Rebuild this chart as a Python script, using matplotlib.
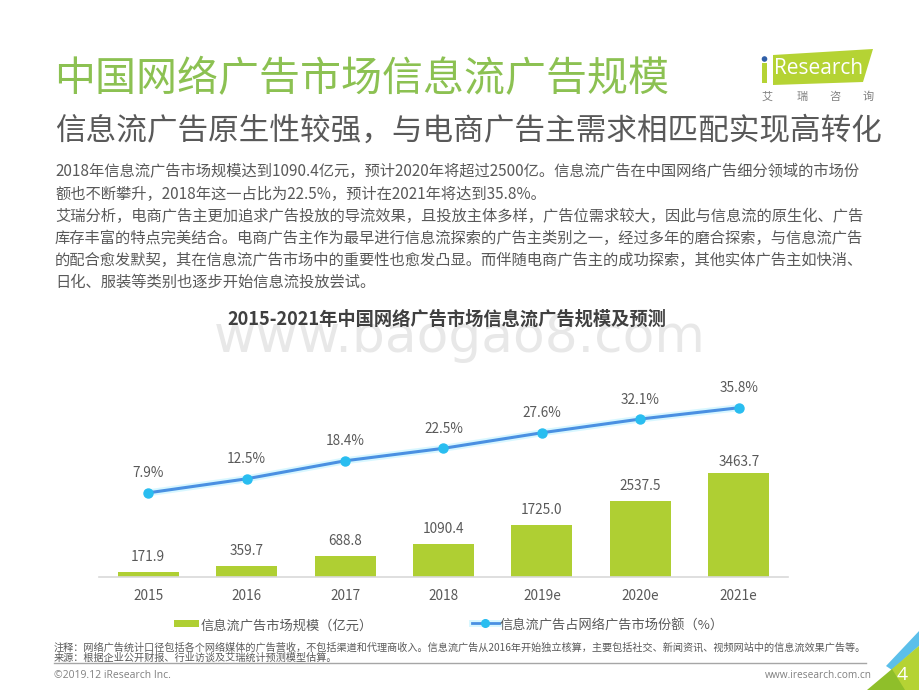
import matplotlib
matplotlib.use('Agg')
import matplotlib.pyplot as plt
from matplotlib.patches import Polygon, Rectangle
from matplotlib.lines import Line2D
import matplotlib.patheffects as pe

plt.rcParams['font.family'] = ['Noto Sans CJK SC', 'DejaVu Sans']

categories = ['2015', '2016', '2017', '2018', '2019e', '2020e', '2021e']
market_size = [171.9, 359.7, 688.8, 1090.4, 1725.0, 2537.5, 3463.7]
market_share = [7.9, 12.5, 18.4, 22.5, 27.6, 32.1, 35.8]

title = '中国网络广告市场信息流广告规模'
subtitle = '信息流广告原生性较强，与电商广告主需求相匹配实现高转化'
body_lines = [
    '2018年信息流广告市场规模达到1090.4亿元，预计2020年将超过2500亿。信息流广告在中国网络广告细分领域的市场份',
    '额也不断攀升，2018年这一占比为22.5%，预计在2021年将达到35.8%。',
    '艾瑞分析，电商广告主更加追求广告投放的导流效果，且投放主体多样，广告位需求较大，因此与信息流的原生化、广告',
    '库存丰富的特点完美结合。电商广告主作为最早进行信息流探索的广告主类别之一，经过多年的磨合探索，与信息流广告',
    '的配合愈发默契，其在信息流广告市场中的重要性也愈发凸显。而伴随电商广告主的成功探索，其他实体广告主如快消、',
    '日化、服装等类别也逐步开始信息流投放尝试。',
]
body_y = [171, 194, 216, 238, 260, 282]
chart_title = '2015-2021年中国网络广告市场信息流广告规模及预测'
legend_bar = '信息流广告市场规模（亿元）'
legend_line = '信息流广告占网络广告市场份额（%）'
note1 = '注释：网络广告统计口径包括各个网络媒体的广告营收，不包括渠道和代理商收入。信息流广告从2016年开始独立核算，主要包括社交、新闻资讯、视频网站中的信息流效果广告等。'
note2 = '来源：根据企业公开财报、行业访谈及艾瑞统计预测模型估算。'

W, H = 920, 690
fig = plt.figure(figsize=(W / 100, H / 100), dpi=100, facecolor='white')

bg = fig.add_axes([0, 0, 1, 1])
bg.set_xlim(0, W)
bg.set_ylim(H, 0)
bg.axis('off')

GREEN = '#AFCF33'
GREY = '#595959'

bg.text(54, 79.5, title, fontsize=29.5, color='#8CC152', va='center', ha='left')
bg.text(55, 131.5, subtitle, fontsize=22.05, color='#595959', va='center', ha='left')
for s, y in zip(body_lines, body_y):
    bg.text(55, y, s, fontsize=11.0, color=GREY, va='center', ha='left')
bg.text(446.5, 319, chart_title, fontsize=13.15, color='#404040', va='center', ha='center',
        fontweight='bold', zorder=3)
bg.text(460, 338, 'www.baogao8.com', fontsize=37.3, color='#E8E8E8', va='center', ha='center',
        zorder=0, family='DejaVu Sans')

# logo
bg.add_patch(Polygon([(773, 55), (873, 49), (863, 82), (773, 85)], closed=True, fc='#B5D334', ec='none'))
bg.add_patch(Rectangle((762, 63), 5, 20, fc='#B5D334', ec='none'))
bg.add_patch(plt.Circle((764.5, 59), 2.8, fc='#2F5FA8', ec='none'))
bg.text(819, 68.5, 'Research', fontsize=15, color='white', va='center', ha='center', family='Open Sans')
for x, c in zip([767, 802, 835, 868], '艾瑞咨询'):
    bg.text(x, 97, c, fontsize=8, color='#808080', va='center', ha='center')

# chart axes
ax = fig.add_axes([99 / W, 1 - 577 / H, 689 / W, 197 / H])
ax.patch.set_alpha(0)
ax.set_xlim(-0.5, 6.5)
ax.set_ylim(0, 6567)
ax.bar(range(7), market_size, width=0.62, color=GREEN)
bar_offsets = [6, 6, 6, 6, 6, 6, 3]
for i, (v, off) in enumerate(zip(market_size, bar_offsets)):
    ax.annotate(f'{v:.1f}', (i, v), xytext=(0, off), textcoords='offset points',
                ha='center', va='bottom', fontsize=9.8, color=GREY)
ax.set_xticks(range(7), categories, fontsize=9.8, color=GREY)
ax.tick_params(axis='x', length=0, pad=9)
ax.set_yticks([])
for s in ['top', 'left', 'right']:
    ax.spines[s].set_visible(False)
ax.spines['bottom'].set_color('#D9D9D9')
ax.spines['bottom'].set_linewidth(1.2)

ax2 = ax.twinx()
ax2.patch.set_alpha(0)
ax2.set_ylim(-19.7, 44.9)
ax2.set_yticks([])
for s in ax2.spines.values():
    s.set_visible(False)
glow = [pe.Stroke(linewidth=5, foreground='#D8F7FF'), pe.Normal()]
ax2.plot(range(7), market_share, color='#4A90E2', lw=2.2, path_effects=glow)
ax2.plot(range(7), market_share, ls='none', marker='o', ms=6.5, color='#29BDF0')
for i, v in enumerate(market_share):
    ax2.annotate(f'{v}%', (i, v), xytext=(0, 9), textcoords='offset points',
                 ha='center', va='bottom', fontsize=9.8, color=GREY)

# legend
bg.add_patch(Rectangle((174, 620), 25, 7, fc=GREEN, ec='none'))
bg.text(201, 626, legend_bar, fontsize=9.5, color=GREY, va='center', ha='left')
bg.add_line(Line2D([472, 499], [622.5, 622.5], color='#4A90E2', lw=2, path_effects=glow))
bg.add_line(Line2D([485.5], [622.5], marker='o', ms=5.5, color='#29BDF0'))
bg.text(500, 626, legend_line, fontsize=9.5, color=GREY, va='center', ha='left')

# footer
bg.text(54, 647, note1, fontsize=7.3, color=GREY, va='center', ha='left')
bg.text(54, 658, note2, fontsize=7.3, color=GREY, va='center', ha='left')
bg.add_line(Line2D([54, 866], [663, 663], color='#A6A6A6', lw=1))
bg.text(54, 675, '©2019.12 iResearch Inc.', fontsize=7.5, color='#808080', va='center', ha='left', family='Open Sans')
bg.text(872, 675, 'www.iresearch.com.cn', fontsize=7.3, color='#808080', va='center', ha='right', family='Open Sans')

# corner decoration
bg.add_patch(Polygon([(920, 630), (886, 666), (892, 670), (920, 645)], closed=True, fc='#5BBFEA', ec='none'))
bg.add_patch(Polygon([(892, 669), (920, 645), (920, 690), (885, 690)], closed=True, fc='#B5D334', ec='none'))
bg.add_patch(Polygon([(867, 690), (892, 669), (905, 690)], closed=True, fc='#8FBF2A', ec='none'))
bg.text(902, 675, '4', fontsize=14, color='white', va='center', ha='center', family='Open Sans')

fig.savefig('out.png', dpi=100)
